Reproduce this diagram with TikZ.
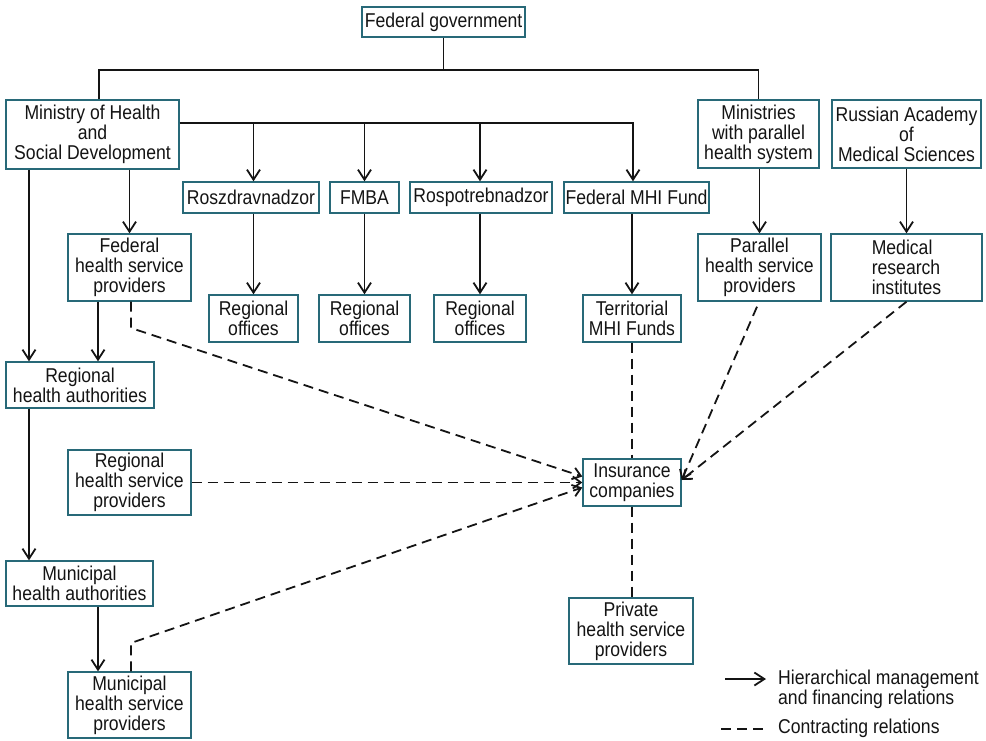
\documentclass[tikz,border=0pt]{standalone}
\usepackage{fontspec}
\setmainfont{Liberation Sans}[FakeStretch=0.88]
\usetikzlibrary{arrows.meta}
\definecolor{boxc}{RGB}{40,105,120}
\definecolor{ink}{RGB}{20,20,20}
\begin{document}
\begin{tikzpicture}[x=1pt,y=-1pt,
 box/.style={draw=boxc, line width=1.4pt, fill=white, inner sep=0pt, align=center, font=\fontsize{20}{20}\selectfont, text=ink},
 lbl/.style={inner sep=0pt, align=left, font=\fontsize{20}{20}\selectfont, text=ink},
 hier/.style={draw=ink, line width=1.8pt, -{Straight Barb[length=10pt,width=13pt]}},
 plain/.style={draw=ink, line width=1.8pt},
 contr/.style={draw=ink, line width=1.8pt, dash pattern=on 10pt off 6pt},
 ctip/.style={contr, -{Straight Barb[length=8pt,width=12pt]}}]
\useasboundingbox (0,0) rectangle (986,740);

% nodes
\node[box, minimum width=163pt, minimum height=30pt] (fedgov) at (443.5,22) {Federal government};
\node[box, minimum width=173pt, minimum height=69pt] (ministry) at (92.5,134.5) {Ministry of Health\\and\\Social Development};
\node[box, minimum width=121pt, minimum height=68pt] (ministries) at (758.5,134) {Ministries\\with parallel\\health system};
\node[box, minimum width=149pt, minimum height=68pt] (academy) at (906.5,134) {Russian Academy\\of\\Medical Sciences};
\node[box, minimum width=136pt, minimum height=31pt] (roszd) at (251,197.5) {Roszdravnadzor};
\node[box, minimum width=69pt, minimum height=31pt] (fmba) at (364.5,197.5) {FMBA};
\node[box, minimum width=142pt, minimum height=31pt] (rospo) at (481,197.5) {Rospotrebnadzor};
\node[box, minimum width=145pt, minimum height=31pt] (fedmhi) at (636.5,197.5) {Federal MHI Fund};
\node[box, minimum width=123pt, minimum height=67pt] (fedhsp) at (129.5,267.5) {Federal\\health service\\providers};
\node[box, minimum width=89pt, minimum height=47pt] (reg1) at (253.5,318.5) {Regional\\offices};
\node[box, minimum width=91pt, minimum height=47pt] (reg2) at (364.5,318.5) {Regional\\offices};
\node[box, minimum width=92pt, minimum height=47pt] (reg3) at (480,318.5) {Regional\\offices};
\node[box, minimum width=98pt, minimum height=47pt] (terr) at (632,318.5) {Territorial\\MHI Funds};
\node[box, minimum width=123pt, minimum height=67pt] (parhsp) at (759.5,267.5) {Parallel\\health service\\providers};
\node[box, minimum width=151pt, minimum height=67pt, align=left] (medres) at (906.5,267.5) {Medical\\research\\institutes};
\node[box, minimum width=148pt, minimum height=46pt] (regauth) at (80,385) {Regional\\health authorities};
\node[box, minimum width=98pt, minimum height=47pt] (ins) at (632,482.5) {Insurance\\companies};
\node[box, minimum width=123pt, minimum height=65pt] (reghsp) at (129.5,482.5) {Regional\\health service\\providers};
\node[box, minimum width=147pt, minimum height=45pt] (muniauth) at (79.5,583.5) {Municipal\\health authorities};
\node[box, minimum width=123pt, minimum height=66pt] (munihsp) at (129.5,705) {Municipal\\health service\\providers};
\node[box, minimum width=124pt, minimum height=66pt] (private) at (631,631) {Private\\health service\\providers};

% buses and bends
\coordinate (gbus) at (0,70);
\coordinate (mbus) at (0,123);
\coordinate (fbend) at (131,328);
\coordinate (mbend) at (131,643);

% hierarchical
\draw[plain] (fedgov.south) -- (fedgov.south |- gbus);
\draw[plain] (ministry.north -| 99,0) |- (ministries.north |- gbus) -- (ministries.north);
\draw[hier] (ministry.east |- mbus) -| (fedmhi.north -| 633,0);
\draw[hier] (reg1.north |- mbus) -- (roszd.north -| reg1.north);
\draw[hier] (fmba.north |- mbus) -- (fmba.north);
\draw[hier] (reg3.north |- mbus) -- (rospo.north -| reg3.north);
\draw[hier] (roszd.south -| reg1.north) -- (reg1.north);
\draw[hier] (fmba.south -| reg2.north) -- (reg2.north);
\draw[hier] (rospo.south -| reg3.north) -- (reg3.north);
\draw[hier] (fedmhi.south -| terr.north) -- (terr.north);
\draw[hier] (ministries.south -| parhsp.north) -- (parhsp.north);
\draw[hier] (academy.south -| medres.north) -- (medres.north);
\draw[hier] (ministry.south -| 29,0) -- (regauth.north -| 29,0);
\draw[hier] (ministry.south -| fedhsp.north) -- (fedhsp.north);
\draw[hier] (fedhsp.south -| 98,0) -- (regauth.north -| 98,0);
\draw[hier] (regauth.south -| 29,0) -- (muniauth.north -| 29,0);
\draw[hier] (muniauth.south -| 98,0) -- (munihsp.north -| 98,0);

% contracting
\draw[contr] (terr.south) -- (ins.north -| terr.south);
\draw[contr] (ins.south) -- (private.north -| ins.south);
\draw[ctip] (reghsp.east) -- (ins.west |- reghsp.east);
\draw[ctip] (fedhsp.south -| fbend) -- (fbend) -- ([yshift=6pt]ins.west);
\draw[ctip] (munihsp.north -| mbend) -- (mbend) -- ([yshift=-5pt]ins.west);
\draw[ctip] ([xshift=-2.5pt,yshift=-5pt]parhsp.south) -- ([yshift=2.5pt]ins.east);
\draw[ctip] (medres.south) -- ([yshift=2.5pt]ins.east);

% legend
\coordinate (l1a) at (725,679);
\coordinate (l1b) at (766,679);
\coordinate (l2a) at (721,729);
\coordinate (l2b) at (763,729);
\draw[hier] (l1a) -- (l1b);
\draw[contr] (l2a) -- (l2b);
\node[lbl, anchor=west] (leg1) at (778,689) {Hierarchical management\\and financing relations};
\node[lbl, anchor=west] (leg2) at (778,728) {Contracting relations};
\end{tikzpicture}
\end{document}
